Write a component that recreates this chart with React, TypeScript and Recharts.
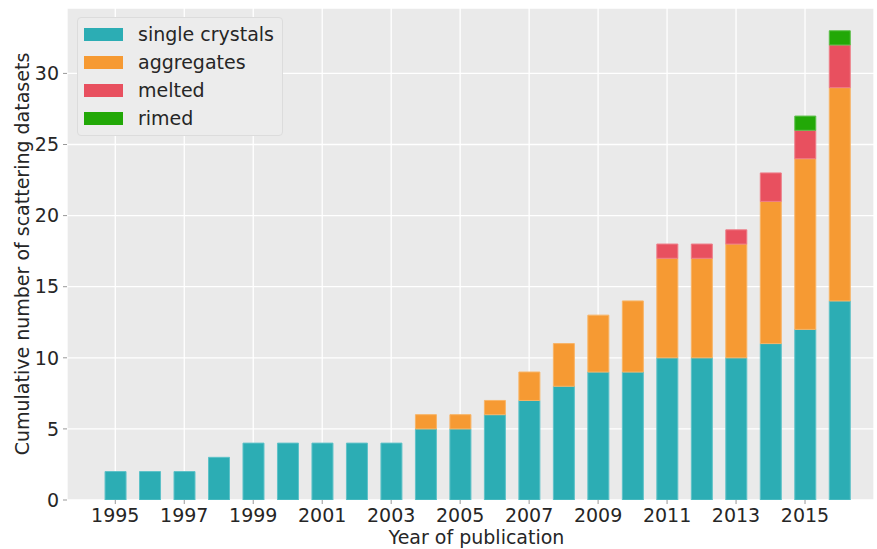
import React from "react";
import { BarChart, Bar, XAxis, YAxis, CartesianGrid, Legend } from "recharts";

const years = [1995, 1996, 1997, 1998, 1999, 2000, 2001, 2002, 2003, 2004, 2005, 2006, 2007, 2008, 2009, 2010, 2011, 2012, 2013, 2014, 2015, 2016];
const singleCrystals = [2, 2, 2, 3, 4, 4, 4, 4, 4, 5, 5, 6, 7, 8, 9, 9, 10, 10, 10, 11, 12, 14];
const aggregates = [0, 0, 0, 0, 0, 0, 0, 0, 0, 1, 1, 1, 2, 3, 4, 5, 7, 7, 8, 10, 12, 15];
const melted = [0, 0, 0, 0, 0, 0, 0, 0, 0, 0, 0, 0, 0, 0, 0, 0, 1, 1, 1, 2, 2, 3];
const rimed = [0, 0, 0, 0, 0, 0, 0, 0, 0, 0, 0, 0, 0, 0, 0, 0, 0, 0, 0, 0, 1, 1];
const xTicks = [1995, 1997, 1999, 2001, 2003, 2005, 2007, 2009, 2011, 2013, 2015];
const yTicks = [0, 5, 10, 15, 20, 25, 30];

const series = [
  { key: "single", name: "single crystals", color: "#2CADB4", edge: "#5EC2C8" },
  { key: "aggregates", name: "aggregates", color: "#F69A33", edge: "#F8B466" },
  { key: "melted", name: "melted", color: "#E8505F", edge: "#EE7D88" },
  { key: "rimed", name: "rimed", color: "#22A807", edge: "#5CBF4A" },
];

const data = years.map((y, i) => ({
  year: y,
  single: singleCrystals[i],
  aggregates: aggregates[i],
  melted: melted[i],
  rimed: rimed[i],
}));

const FONT = "'DejaVu Sans', sans-serif";
const TEXT = "#262626";
const FS = 19;

const LegendBox = () => (
  <div
    style={{
      width: 206,
      height: 119,
      background: "#ECECEC",
      border: "1px solid #DCDCDC",
      borderRadius: 4,
      fontFamily: FONT,
      fontSize: FS,
      color: TEXT,
      boxSizing: "border-box",
      paddingTop: 2,
    }}
  >
    {series.map((s) => (
      <div key={s.key} style={{ display: "flex", alignItems: "center", height: 28, whiteSpace: "nowrap" }}>
        <div style={{ width: 39, height: 13, background: s.color, marginLeft: 6, marginRight: 15, flexShrink: 0 }} />
        <span>{s.name}</span>
      </div>
    ))}
  </div>
);

export default function App() {
  return (
    <div style={{ position: "absolute", left: 0, top: 0, width: 877, height: 549, background: "#fff" }}>
      <BarChart
        width={877}
        height={549}
        data={data}
        margin={{ top: 8, right: 3, left: 0, bottom: 0 }}
        style={{ fontFamily: FONT }}
      >
        <CartesianGrid stroke="#FFFFFF" strokeWidth={1.3} fill="#EAEAEA" />
        <XAxis
          dataKey="year"
          type="number"
          domain={[1993.6, 2017.0]}
          ticks={xTicks}
          allowDataOverflow
          axisLine={false}
          tickSize={4}
          tickMargin={5}
          tickLine={{ stroke: "#999" }}
          tick={{ fill: TEXT, fontSize: FS, fontFamily: FONT }}
          height={49}
          interval={0}
          label={{ value: "Year of publication", position: "insideBottom", offset: 5, dx: 6, fill: TEXT, fontSize: FS, fontFamily: FONT }}
        />
        <YAxis
          type="number"
          domain={[0, 34.6]}
          ticks={yTicks}
          allowDataOverflow
          axisLine={false}
          tickSize={4}
          tickMargin={4}
          tickLine={{ stroke: "#999" }}
          tick={{ fill: TEXT, fontSize: FS, fontFamily: FONT }}
          width={67}
          interval={0}
          label={{ value: "Cumulative number of scattering datasets", angle: -90, position: "center", dx: -11, fill: TEXT, fontSize: FS, fontFamily: FONT }}
        />
        <Legend
          layout="vertical"
          align="center"
          verticalAlign="middle"
          wrapperStyle={{ left: 77, top: 17, width: 206, height: 119 }}
          content={() => <LegendBox />}
        />
        {series.map((s) => (
          <Bar
            key={s.key}
            dataKey={s.key}
            name={s.name}
            stackId="a"
            fill={s.color}
            stroke={s.edge}
            strokeWidth={1}
            barSize={21}
            isAnimationActive={false}
          />
        ))}
      </BarChart>
    </div>
  );
}
